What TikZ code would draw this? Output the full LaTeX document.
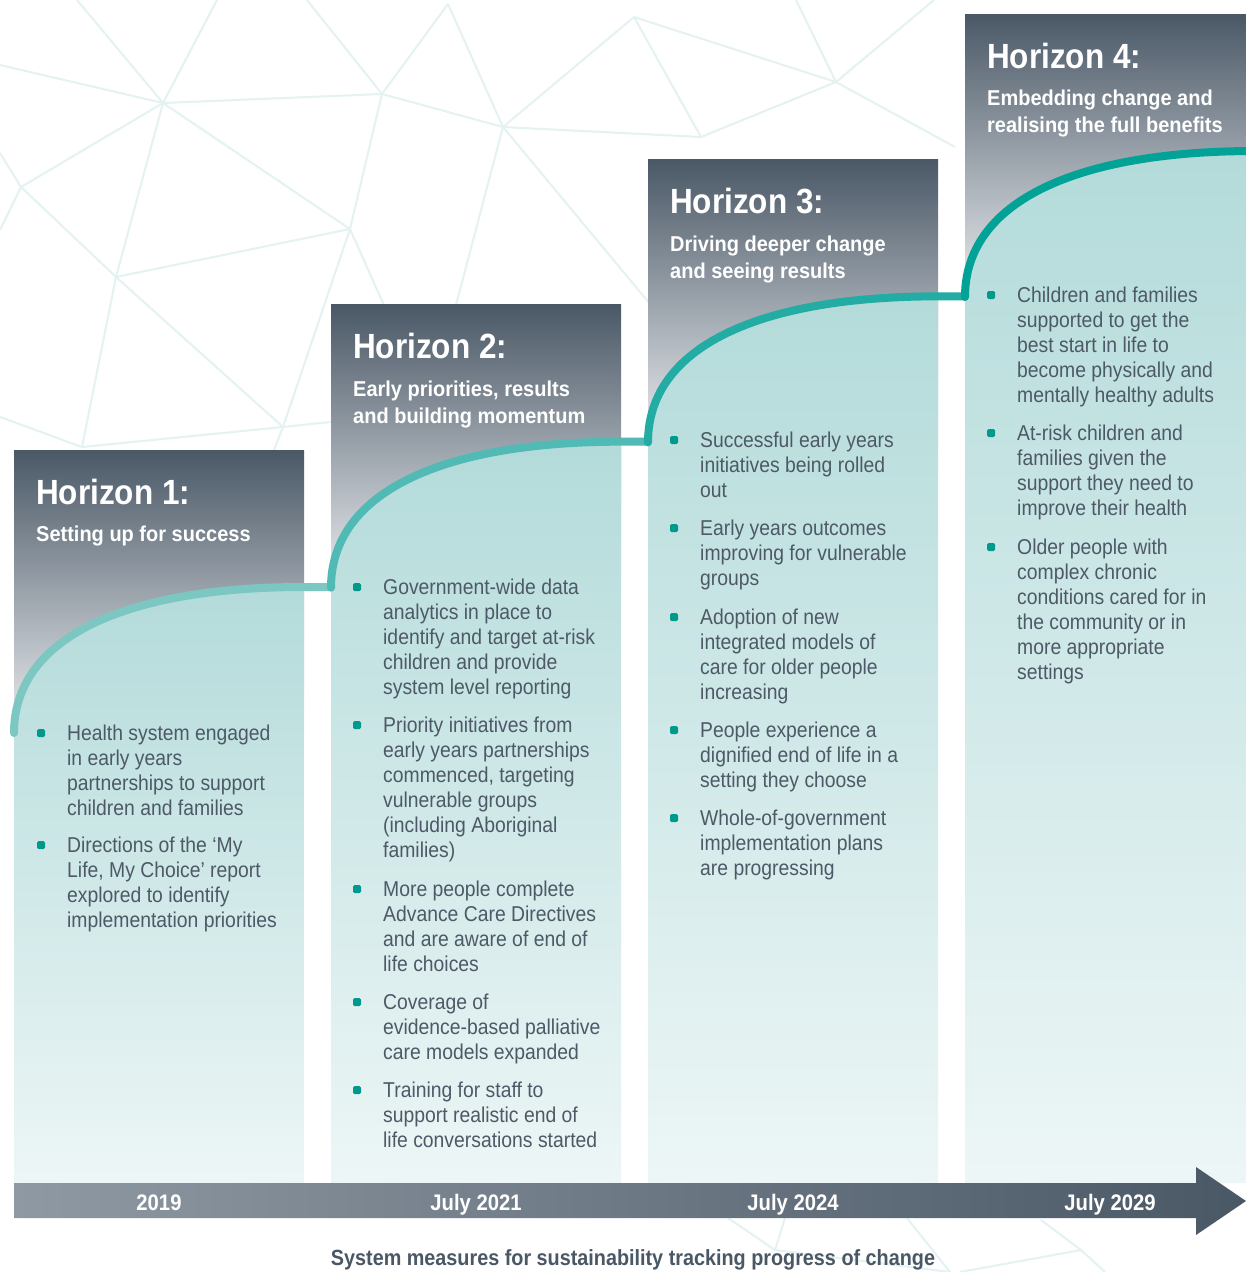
\documentclass[tikz,border=0pt]{standalone}
\usepackage{fontspec}
\usepackage{xcolor}
\usepackage{tikz}
\usetikzlibrary{positioning}
\setmainfont{Liberation Sans}
\newfontfamily\headfont[FakeStretch=0.9]{Liberation Sans}
\newfontfamily\aimfont[FakeStretch=0.93]{Liberation Sans}
\newfontfamily\bodyfont[FakeStretch=0.9]{Liberation Sans}
\newcommand{\colnum}{4}
\newcommand{\colwidth}{290}
\newcommand{\colstep}{317}
\newcommand{\risestep}{145.33}

\definecolor{slate}{HTML}{4A5866}
\definecolor{slatelight}{HTML}{8F99A3}
\definecolor{mist}{HTML}{ECEEF1}
\definecolor{tealfill}{HTML}{B3DBDA}
\definecolor{tealpale}{HTML}{EDF6F6}
\definecolor{dotteal}{HTML}{00998C}
\definecolor{bodytext}{HTML}{4D5966}
\definecolor{meshline}{HTML}{E4F2F1}
\definecolor{curve1}{HTML}{7CC7C2}
\definecolor{curve2}{HTML}{52BAB4}
\definecolor{curve3}{HTML}{22ACA3}
\definecolor{curve4}{HTML}{03A297}

\tikzset{
  mesh/.style={draw=meshline, line width=2pt},
  riseline/.style={line width=8pt, line cap=round, line join=round},
  horizon/.style={anchor=base west, inner sep=0, text=white,
    font={\headfont\bfseries\fontsize{35}{40}\selectfont}},
  aim/.style={anchor=north west, inner sep=0, text=white, align=left,
    font={\aimfont\bfseries\fontsize{21.5}{27}\selectfont}},
  measure/.style={anchor=north west, inner sep=0, text=bodytext, align=left,
    font={\bodyfont\fontsize{21.5}{25}\selectfont}},
  dot/.style={rectangle, minimum size=8pt, inner sep=0,
    fill=dotteal, rounded corners=1.5pt},
  year/.style={anchor=base, inner sep=0, text=white,
    font={\headfont\bfseries\fontsize{22.5}{26}\selectfont}}
}

\begin{document}
\begin{tikzpicture}[x=1pt, y=-1pt]

\useasboundingbox (0,0) rectangle (1246,1272);
\fill[white] (0,0) rectangle (1246,1272);

% Background mesh
\coordinate (mA) at (163,103);
\coordinate (mB) at (382,94);
\coordinate (mC) at (448,4);
\coordinate (mD) at (503,127);
\coordinate (mE) at (21,187);
\coordinate (mF) at (350,229);
\coordinate (mG) at (116,277);
\coordinate (mH) at (283,427);
\coordinate (mI) at (82,447);
\coordinate (mJ) at (634,17);
\coordinate (mK) at (701,137);
\coordinate (mL) at (836,82);
\coordinate (mM) at (955,147);
\coordinate (nA) at (775,1250);
\coordinate (nB) at (1081,1250);
\coordinate (r1) at (0,65);
\coordinate (r2) at (77,0);
\coordinate (r3) at (217,0);
\coordinate (r4) at (307,0);
\coordinate (r5) at (0,153);
\coordinate (r6) at (0,230);
\coordinate (r7) at (0,417);
\coordinate (r8) at (796,0);
\coordinate (r9) at (934,0);
\coordinate (r10) at (452,320);
\coordinate (r11) at (655,310);
\coordinate (r12) at (395,330);
\coordinate (r13) at (340,421);
\coordinate (r14) at (270,460);
\coordinate (r15) at (728,1218);
\coordinate (r16) at (785,1218);
\coordinate (r17) at (950,1272);
\coordinate (r18) at (907,1218);
\coordinate (r19) at (1041,1220);
\coordinate (r20) at (1105,1272);
\coordinate (r21) at (960,1272);

\foreach \a/\b in {r1/mA, mA/r2, mA/r3, mA/mB, mA/mE, mA/mG, mA/mF,
                   mB/r4, mB/mC, mB/mD, mB/mF, mC/mD, mD/mJ, mD/mK,
                   mJ/mK, mJ/mL, mL/mK, mL/r8, mL/r9, mL/mM, mD/r10,
                   mD/r11, mE/r5, mE/r6, mE/mG, mG/mF, mG/mI, mG/mH,
                   mF/mH, mF/r12, mH/mI, mH/r13, mH/r14, mI/r7,
                   nA/r15, nA/r16, nA/r17, r18/r17, r19/nB, nB/r20, nB/r21}
{
  \draw[mesh] (\a) -- (\b);
}

% Columns
\foreach \i in {1,...,\colnum}
{
  \pgfmathsetmacro{\xl}{14+\colstep*(\i-1)}
  \pgfmathsetmacro{\yt}{450-\risestep*(\i-1)}
  \pgfmathsetmacro{\yb}{\yt+283}
  \shade[top color=slate, bottom color=mist]
    (\xl,\yt) rectangle (\xl+\colwidth,\yb+2);
  \shade[top color=tealfill, bottom color=tealpale]
    (\xl,\yb) .. controls (\xl,\yb-96) and (\xl+112,\yb-146)
    .. (\xl+\colwidth,\yb-146) -- (\xl+\colwidth,1183) -- (\xl,1183) -- cycle;
}

% Rising line
\foreach \i in {1,...,\colnum}
{
  \pgfmathsetmacro{\xl}{14+\colstep*(\i-1)}
  \pgfmathsetmacro{\yb}{733-\risestep*(\i-1)}
  \draw[riseline, draw=curve\i]
    (\xl,\yb) .. controls (\xl,\yb-96) and (\xl+112,\yb-146)
    .. (\xl+\colwidth,\yb-146) -- ++(27,0);
}

% Headings
\foreach \i/\aim in {1/{Setting up for success},
                     2/{Early priorities, results\\and building momentum},
                     3/{Driving deeper change\\and seeing results},
                     4/{Embedding change and\\realising the full benefits}}
{
  \pgfmathsetmacro{\xl}{14+\colstep*(\i-1)}
  \pgfmathsetmacro{\yt}{450-\risestep*(\i-1)}
  \node[horizon] (title-\i) at (\xl+22,\yt+54) {Horizon \i:};
  \node[aim] (aim-\i) at (\xl+22,\yt+76) {\aim};
}

% Horizon 1 measures
\foreach \n/\ty/\txt in {
  1/725/{Health system engaged\\in early years\\partnerships to support\\children and families},
  2/837/{Directions of the ‘My\\Life, My Choice’ report\\explored to identify\\implementation priorities}}
{
  \node[measure] (m1-\n) at (67,\ty) {\txt};
  \node[dot] (d1-\n) at (41,\ty+8) {};
}

% Horizon 2 measures
\foreach \n/\ty/\txt in {
  1/579/{Government-wide data\\analytics in place to\\identify and target at-risk\\children and provide\\system level reporting},
  2/717/{Priority initiatives from\\early years partnerships\\commenced, targeting\\vulnerable groups\\(including Aboriginal\\families)},
  3/881/{More people complete\\Advance Care Directives\\and are aware of end of\\life choices},
  4/994/{Coverage of\\evidence-based palliative\\care models expanded},
  5/1082/{Training for staff to\\support realistic end of\\life conversations started}}
{
  \node[measure] (m2-\n) at (383,\ty) {\txt};
  \node[dot] (d2-\n) at (357,\ty+8) {};
}

% Horizon 3 measures
\foreach \n/\ty/\txt in {
  1/432/{Successful early years\\initiatives being rolled\\out},
  2/520/{Early years outcomes\\improving for vulnerable\\groups},
  3/609/{Adoption of new\\integrated models of\\care for older people\\increasing},
  4/722/{People experience a\\dignified end of life in a\\setting they choose},
  5/810/{Whole-of-government\\implementation plans\\are progressing}}
{
  \node[measure] (m3-\n) at (700,\ty) {\txt};
  \node[dot] (d3-\n) at (674,\ty+8) {};
}

% Horizon 4 measures
\foreach \n/\ty/\txt in {
  1/287/{Children and families\\supported to get the\\best start in life to\\become physically and\\mentally healthy adults},
  2/425/{At-risk children and\\families given the\\support they need to\\improve their health},
  3/539/{Older people with\\complex chronic\\conditions cared for in\\the community or in\\more appropriate\\settings}}
{
  \node[measure] (m4-\n) at (1017,\ty) {\txt};
  \node[dot] (d4-\n) at (991,\ty+8) {};
}

% Timeline arrow
\shade[left color=slatelight, right color=slate]
  (14,1183) -- (1196,1183) -- (1196,1167) -- (1246,1201)
  -- (1196,1235) -- (1196,1218) -- (14,1218) -- cycle;

\foreach \i/\yr in {1/2019, 2/July 2021, 3/July 2024, 4/July 2029}
{
  \pgfmathsetmacro{\xy}{159+\colstep*(\i-1)}
  \node[year] (year-\i) at (\xy,1210) {\yr};
}

% Caption
\node[anchor=base, inner sep=0, text=slate,
  font={\headfont\bfseries\fontsize{22}{26}\selectfont}]
  (caption) at (633,1265)
  {System measures for sustainability tracking progress of change};

\end{tikzpicture}
\end{document}
